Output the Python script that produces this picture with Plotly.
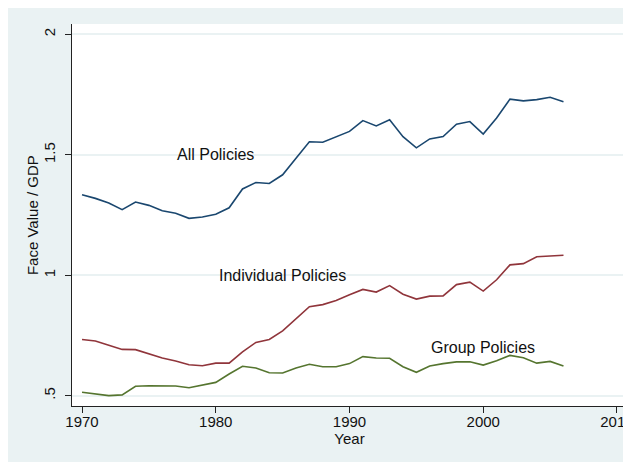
import plotly.graph_objects as go

years = list(range(1970, 2007))

all_policies = [1.334, 1.319, 1.300, 1.272, 1.304, 1.290, 1.268, 1.257, 1.236, 1.242,
                1.253, 1.280, 1.358, 1.385, 1.381, 1.417, 1.486, 1.554, 1.552, 1.576,
                1.597, 1.642, 1.620, 1.645, 1.575, 1.529, 1.566, 1.576, 1.627, 1.638,
                1.586, 1.653, 1.731, 1.724, 1.729, 1.739, 1.720]

individual_policies = [0.733, 0.727, 0.709, 0.692, 0.691, 0.675, 0.656, 0.644, 0.628, 0.624,
                       0.635, 0.635, 0.682, 0.721, 0.733, 0.769, 0.818, 0.869, 0.878, 0.895,
                       0.919, 0.941, 0.930, 0.957, 0.921, 0.901, 0.913, 0.914, 0.961, 0.971,
                       0.934, 0.981, 1.043, 1.048, 1.077, 1.080, 1.083]

group_policies = [0.514, 0.506, 0.500, 0.503, 0.539, 0.541, 0.540, 0.540, 0.533, 0.544,
                  0.555, 0.590, 0.622, 0.615, 0.595, 0.594, 0.615, 0.630, 0.620, 0.620,
                  0.633, 0.662, 0.656, 0.655, 0.620, 0.597, 0.623, 0.633, 0.640, 0.641,
                  0.627, 0.645, 0.667, 0.657, 0.635, 0.642, 0.623]

x_ticks = [1970, 1980, 1990, 2000, 2010]
y_ticks = [0.5, 1.0, 1.5, 2.0]
y_tick_labels = [".5", "1", "1.5", "2"]

labels = ["All Policies", "Individual Policies", "Group Policies"]
label_x = [1980, 1985, 2000]
label_y = [1.5, 1.0, 0.7]

colors = ["#1a476f", "#90353b", "#55752f"]
series = [all_policies, individual_policies, group_policies]

FONT = "Liberation Sans, Arial, sans-serif"
BG = "#eaf2f3"

fig = go.Figure()
for name, vals, col in zip(labels, series, colors):
    fig.add_trace(go.Scatter(x=years, y=vals, mode="lines", name=name,
                             line=dict(color=col, width=1.6), showlegend=False))

for t, xx, yy in zip(labels, label_x, label_y):
    fig.add_annotation(x=xx, y=yy, text=t, showarrow=False,
                       xanchor="center", yanchor="middle",
                       font=dict(family=FONT, size=16, color="#111111"))

# y-axis title
fig.add_annotation(xref="paper", yref="paper", x=-0.072, y=0.5,
                   text="Face Value / GDP", textangle=-90, showarrow=False,
                   xanchor="center", yanchor="middle",
                   font=dict(family=FONT, size=15, color="#111111"))

fig.update_layout(
    width=631, height=462,
    margin=dict(l=64, r=12, t=16, b=64, autoexpand=False),
    paper_bgcolor=BG,
    plot_bgcolor="white",
    font=dict(family=FONT, size=15, color="#111111"),
)

fig.update_xaxes(
    range=[1969.25, 2010.75], automargin=False,
    tickvals=x_ticks, ticktext=[str(v) for v in x_ticks],
    ticks="outside", ticklen=6, tickcolor="#222222", tickwidth=1,
    ticklabeloverflow="allow", ticklabelstandoff=-4,
    showline=True, linecolor="#222222", linewidth=1,
    showgrid=False, zeroline=False,
    tickfont=dict(size=15),
    title=dict(text="Year", font=dict(size=15), standoff=3),
)

fig.update_yaxes(
    range=[0.457, 2.043], automargin=False,
    tickvals=y_ticks, ticktext=y_tick_labels, tickangle=-90,
    ticks="outside", ticklen=6, tickcolor="#222222", tickwidth=1,
    ticklabelstandoff=4,
    showline=True, linecolor="#222222", linewidth=1,
    showgrid=True, gridcolor=BG, gridwidth=1.5, zeroline=False,
    tickfont=dict(size=15),
)

fig.write_html("out.html")
